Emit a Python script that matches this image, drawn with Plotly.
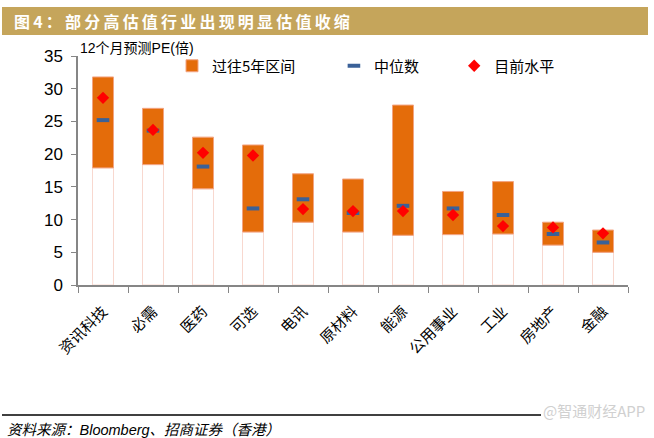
import plotly.graph_objects as go

categories = ["资讯科技", "必需", "医药", "可选", "电讯", "原材料", "能源", "公用事业", "工业", "房地产", "金融"]
low = [17.9, 18.4, 14.7, 8.1, 9.6, 8.1, 7.6, 7.7, 7.8, 6.1, 5.0]
high = [31.8, 27.0, 22.6, 21.4, 17.0, 16.2, 27.5, 14.3, 15.8, 9.6, 8.4]
median = [25.2, 23.6, 18.1, 11.7, 13.1, 11.0, 12.1, 11.7, 10.7, 7.8, 6.5]
current = [28.6, 23.7, 20.2, 19.8, 11.6, 11.3, 11.3, 10.7, 9.0, 8.8, 7.9]
y_ticks = [0, 5, 10, 15, 20, 25, 30, 35]

W, H = 654, 438
L, R, T, B = 78, 26, 56, 153
PW, PH = W - L - R, H - T - B


def px_x(px):
    return (px - L) / PW


def px_y(py):
    return (H - B - py) / PH


CJK = "Noto Sans CJK SC"
LAT = "Liberation Sans"
NB = "\u00a0"

span = [h - l for h, l in zip(high, low)]

fig = go.Figure()
fig.add_trace(go.Bar(
    x=categories, y=low, width=0.42,
    marker=dict(color="white", line=dict(color="#F8D8CF", width=1)),
    showlegend=False, hoverinfo="skip"))
fig.add_trace(go.Bar(
    x=categories, y=span, base=low, width=0.42, name="过往5年区间" + NB * 10,
    marker=dict(color="#E46C0A", line=dict(color="#F3A482", width=1))))
fig.add_trace(go.Scatter(
    x=categories, y=median, mode="markers", name="中位数" + NB * 9,
    marker=dict(symbol="line-ew", size=9, line=dict(color="#3A6198", width=4))))
fig.add_trace(go.Scatter(
    x=categories, y=current, mode="markers", name="目前水平",
    marker=dict(symbol="diamond", size=9.5, color="#FF0000", line=dict(width=0))))

fig.update_layout(
    width=W, height=H, margin=dict(l=L, r=R, t=T, b=B),
    paper_bgcolor="white", plot_bgcolor="white",
    barmode="overlay", bargap=0.58,
    font=dict(family=f"{LAT}, {CJK}", color="#000000"),
    legend=dict(orientation="h", x=px_x(172), xanchor="left", y=px_y(66), yanchor="middle",
                font=dict(family=CJK, size=15, color="#000000"),
                bgcolor="rgba(0,0,0,0)", itemwidth=30),
    xaxis=dict(range=[-0.5, 10.5], showline=True, linecolor="#868686", linewidth=1.5,
               ticks="outside", tickson="boundaries", ticklen=6, tickcolor="#868686",
               tickangle=-45, ticklabelstandoff=10,
               tickfont=dict(family=CJK, size=15, color="#000000"),
               showgrid=False, fixedrange=True),
    yaxis=dict(range=[0, 35], tickvals=y_ticks, showline=True, linecolor="#868686", linewidth=1.5,
               ticks="outside", ticklen=5, tickcolor="#868686", ticklabelstandoff=5,
               tickfont=dict(family=LAT, size=17, color="#000000"),
               showgrid=False, zeroline=False, fixedrange=True),
)

shapes = [
    dict(type="rect", xref="paper", yref="paper", x0=px_x(2), x1=px_x(648), y0=px_y(35), y1=px_y(7),
         fillcolor="#C5A55B", line=dict(width=0), layer="below"),
    dict(type="line", xref="paper", yref="paper", x0=px_x(2), x1=px_x(541), y0=px_y(415), y1=px_y(415),
         line=dict(color="#000000", width=1.5)),
]
fig.update_layout(shapes=shapes)

title_text = "\u2009".join("图4：部分高估值行业出现明显估值收缩")
fig.add_annotation(xref="paper", yref="paper", x=px_x(12), y=px_y(21), xanchor="left", yanchor="middle",
                   text=f"<b>{title_text}</b>", showarrow=False,
                   font=dict(family=CJK, size=16, color="white"))
fig.add_annotation(xref="paper", yref="paper", x=px_x(78), y=px_y(48), xanchor="left", yanchor="middle",
                   text="12个月预测PE(倍)", showarrow=False,
                   font=dict(family=f"{LAT}, {CJK}", size=14, color="#000000"))
fig.add_annotation(xref="paper", yref="paper", x=px_x(5), y=px_y(430), xanchor="left", yanchor="middle",
                   text="<i>资料来源：Bloomberg、招商证券（香港）</i>", showarrow=False,
                   font=dict(family=f"{LAT}, {CJK}", size=14.5, color="#000000"))
fig.add_annotation(xref="paper", yref="paper", x=px_x(541), y=px_y(410), xanchor="left", yanchor="middle",
                   text="@智通财经APP", showarrow=False,
                   font=dict(family=CJK, size=15, color="#D0D0D0"))

fig.write_html("out.html", config={"displayModeBar": False},
               post_script="document.body.style.margin='0';")
